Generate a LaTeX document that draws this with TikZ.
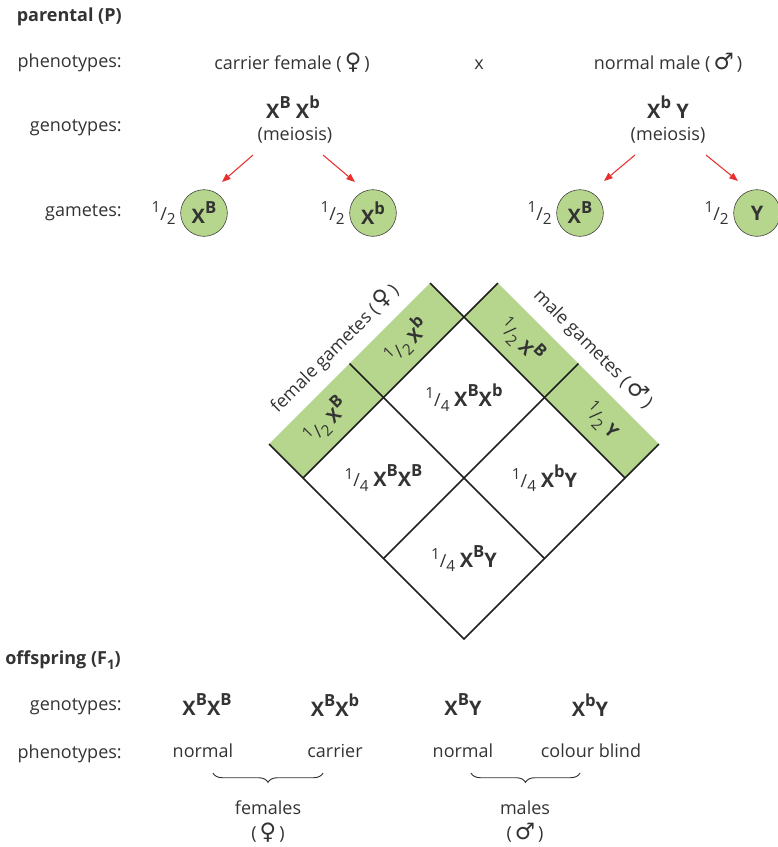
\documentclass[tikz,border=0pt]{standalone}
\usepackage{fontspec}
\setmainfont{Open Sans}
\newfontfamily\sexfont{DejaVu Sans}
\usetikzlibrary{arrows.meta,calc,decorations.pathreplacing}
\definecolor{gamgreen}{RGB}{181,214,140}
\definecolor{txtgray}{RGB}{51,51,51}
\definecolor{arrred}{RGB}{232,49,47}
\newcommand{\hlf}[2]{\raisebox{0.42em}{\fontsize{11.5}{13}\selectfont #1}/\raisebox{-0.25em}{\fontsize{11.5}{13}\selectfont #2}}
\newcommand{\sps}[1]{\raisebox{0.5em}{\fontsize{12.5}{14}\selectfont #1}}
\newcommand{\xg}[1]{X\sps{#1}}
\newcommand{\fsym}{(\,{\sexfont\fontsize{17}{17}\selectfont ♀}\,)}
\newcommand{\msym}{(\,{\sexfont\fontsize{17}{17}\selectfont ♂}\,)}

\begin{document}
\begin{tikzpicture}[x=0.75pt, y=0.75pt, font=\fontsize{13.5}{16}\selectfont, text=txtgray,
	rowlab/.style={anchor=east, inner sep=0pt},
	head/.style={anchor=east, inner sep=0pt, font=\fontsize{13.5}{16}\selectfont\bfseries},
	geno/.style={font=\fontsize{15}{18}\selectfont\bfseries},
	gam/.style={circle, draw=txtgray, fill=gamgreen, minimum size=35pt, inner sep=0pt, font=\fontsize{15}{18}\selectfont\bfseries, label distance=1pt},
	arr/.style={-{Triangle[length=6.5pt,width=5pt]}, draw=arrred, line width=0.8pt},
	gridline/.style={draw=black!88, line width=1.1pt},
	cell/.style={font=\fontsize{13.5}{16}\selectfont},
	phen/.style={text height=0.75em, text depth=0.2em},
	brc/.style={decorate, decoration={brace, mirror, amplitude=7pt}, draw=txtgray, line width=0.7pt}]
	\useasboundingbox (0,0) rectangle (778,-847);
	% parents
	\node[head] (par) at (122,-17) {parental (P)};
	\node[rowlab] (ph1) at (122,-63) {phenotypes:};
	\node[rowlab] (ge1) at (122,-128) {genotypes:};
	\node[rowlab] (ga1) at (122,-213) {gametes:};
	\node (fem) at (292,-63) {carrier female \fsym};
	\node (cross) at (479,-65) {x};
	\node (mal) at (668,-63) {normal male \msym};
	\node[geno] (gf) at (293,-107) {\xg{B} \xg{b}};
	\node (mf) at (295,-135) {(meiosis)};
	\node[geno] (gm) at (668,-107) {\xg{b} Y};
	\node (mm) at (668,-135) {(meiosis)};
	% gametes
	\node[gam, label={left:\hlf{1}{2}}] (g1) at (204,-213) {\xg{B}};
	\node[gam, label={left:\hlf{1}{2}}] (g2) at (373,-213) {\xg{b}};
	\node[gam, label={left:\hlf{1}{2}}] (g3) at (580,-213) {\xg{B}};
	\node[gam, label={left:\hlf{1}{2}}] (g4) at (757,-213) {Y};
	\draw[arr] ($(mf)+(-42,-20)$) -- ($(g1)+(18,31)$);
	\draw[arr] ($(mf)+(28,-20)$) -- ($(g2)+(-18,31)$);
	\draw[arr] ($(mm)+(-33,-20)$) -- ($(g3)+(24,32)$);
	\draw[arr] ($(mm)+(38,-20)$) -- ($(g4)+(-19,32)$);
	% punnett square
	\begin{scope}[shift={(464,-639)}, rotate=45]
		\fill[gamgreen] (0,227.7) -- (227.7,227.7) -- (227.7,275.7) -- (0,275.7) -- cycle;
		\fill[gamgreen] (227.7,0) -- (275.7,0) -- (275.7,227.7) -- (227.7,227.7) -- cycle;
		\draw[gridline] (275.7,0) -- (0,0) -- (0,275.7);
		\foreach \p in {113.85,227.7} {
			\draw[gridline] (0,\p) -- (275.7,\p);
			\draw[gridline] (\p,0) -- (\p,275.7);
		}
		\node[cell, rotate=45] (fb1) at (56.9,251.7) {\hlf{1}{2} \textbf{\xg{B}}};
		\node[cell, rotate=45] (fb2) at (170.8,251.7) {\hlf{1}{2} \textbf{\xg{b}}};
		\node[cell, rotate=-45] (mb1) at (251.7,170.8) {\hlf{1}{2} \textbf{\xg{B}}};
		\node[cell, rotate=-45] (mb2) at (251.7,56.9) {\hlf{1}{2} \textbf{Y}};
		\node[rotate=45, anchor=south, inner sep=1pt] (flab) at (113.85,285) {female gametes \fsym};
		\node[rotate=-45, anchor=south, inner sep=1pt] (mlab) at (285,113.85) {male gametes \msym};
		\node[cell] (c1) at (170.8,170.8) {\hlf{1}{4} \textbf{\fontsize{15}{18}\selectfont\xg{B}\xg{b}}};
		\node[cell] (c2) at (56.9,170.8) {\hlf{1}{4} \textbf{\fontsize{15}{18}\selectfont\xg{B}\xg{B}}};
		\node[cell] (c3) at (170.8,56.9) {\hlf{1}{4} \textbf{\fontsize{15}{18}\selectfont\xg{b}Y}};
		\node[cell] (c4) at (56.9,56.9) {\hlf{1}{4} \textbf{\fontsize{15}{18}\selectfont\xg{B}Y}};
	\end{scope}
	% offspring
	\node[head] (off) at (121,-660) {offspring (F\raisebox{-0.25em}{\fontsize{10}{12}\selectfont 1})};
	\node[rowlab] (ge2) at (122,-707) {genotypes:};
	\node[rowlab] (ph2) at (122,-754) {phenotypes:};
	\node[geno] (o1) at (207,-705) {\xg{B}\xg{B}};
	\node[geno] (o2) at (335,-705) {\xg{B}\xg{b}};
	\node[geno] (o3) at (463,-705) {\xg{B}Y};
	\node[geno] (o4) at (590,-705) {\xg{b}Y};
	\node[phen] (p1) at (203,-754) {normal};
	\node[phen] (p2) at (335,-754) {carrier};
	\node[phen] (p3) at (463,-754) {normal};
	\node[phen] (p4) at (591,-754) {colour blind};
	\draw[brc] ($(p1.south)+(10,-8)$) -- ($(p2.south)+(-12,-8)$);
	\draw[brc] ($(p3.south)+(8,-8)$) -- ($(p4.south)+(-11,-8)$);
	\node (sf) at (268,-808) {females};
	\node (sfs) at (268,-833) {\fsym};
	\node (sm) at (525,-808) {males};
	\node (sms) at (525,-833) {\msym};
\end{tikzpicture}
\end{document}
